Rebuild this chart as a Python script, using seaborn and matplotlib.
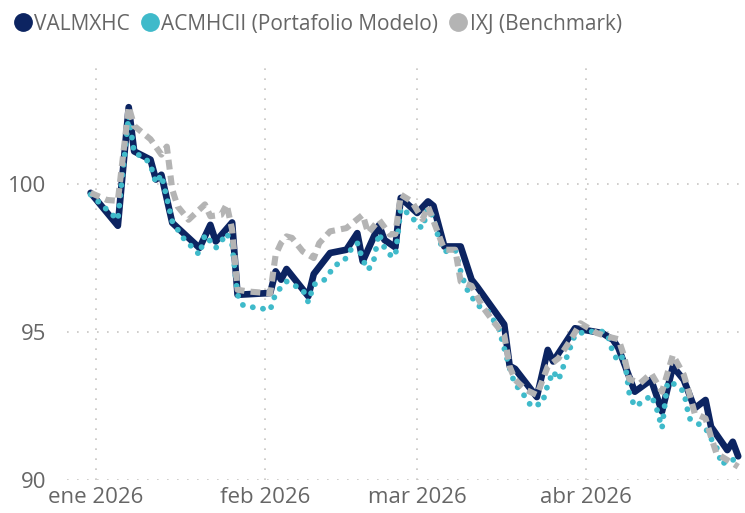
import pandas as pd
import matplotlib.pyplot as plt
import seaborn as sns
from matplotlib.lines import Line2D

sns.set_theme(style="white")
plt.rcParams["font.family"] = ["Open Sans", "DejaVu Sans"]

# VALMXHC
fechas_valmx = [
    "2025-12-31", "2026-01-05", "2026-01-07", "2026-01-08", "2026-01-11", "2026-01-12",
    "2026-01-13", "2026-01-15", "2026-01-20", "2026-01-22", "2026-01-23", "2026-01-26",
    "2026-01-27", "2026-02-02", "2026-02-03", "2026-02-04", "2026-02-05", "2026-02-09",
    "2026-02-10", "2026-02-13", "2026-02-16", "2026-02-18", "2026-02-19", "2026-02-22",
    "2026-02-23", "2026-02-25", "2026-02-26", "2026-03-01", "2026-03-03", "2026-03-04",
    "2026-03-06", "2026-03-09", "2026-03-11", "2026-03-12", "2026-03-17", "2026-03-18",
    "2026-03-19", "2026-03-23", "2026-03-25", "2026-03-26", "2026-03-30", "2026-04-04",
    "2026-04-06", "2026-04-07", "2026-04-10", "2026-04-13", "2026-04-15", "2026-04-17",
    "2026-04-19", "2026-04-21", "2026-04-23", "2026-04-24", "2026-04-27", "2026-04-28",
    "2026-04-29",
]
valmx = [
    99.69, 98.58, 102.58, 101.09, 100.81, 100.14, 100.3, 98.68, 97.83, 98.61,
    98.05, 98.69, 96.25, 96.31, 97.04, 96.76, 97.12, 96.2, 96.95, 97.66,
    97.77, 98.33, 97.38, 98.6, 98.1, 97.85, 99.52, 99.01, 99.40, 99.25,
    97.88, 97.88, 96.76, 96.53, 95.25, 93.85, 93.75, 92.8, 94.39, 94.0,
    95.12, 94.96, 94.73, 94.45, 92.98, 93.38, 92.31, 93.83, 93.38, 92.42,
    92.7, 91.8, 91.01, 91.29, 90.8,
]

# ACMHCII (Portafolio Modelo)
fechas_acm = [
    "2025-12-31", "2026-01-05", "2026-01-07", "2026-01-08", "2026-01-10", "2026-01-11",
    "2026-01-12", "2026-01-13", "2026-01-15", "2026-01-17", "2026-01-20", "2026-01-21",
    "2026-01-23", "2026-01-24", "2026-01-25", "2026-01-26", "2026-01-27", "2026-01-28",
    "2026-01-29", "2026-01-31", "2026-02-02", "2026-02-03", "2026-02-05", "2026-02-08",
    "2026-02-09", "2026-02-10", "2026-02-12", "2026-02-14", "2026-02-15", "2026-02-16",
    "2026-02-17", "2026-02-18", "2026-02-19", "2026-02-20", "2026-02-21", "2026-02-22",
    "2026-02-23", "2026-02-24", "2026-02-25", "2026-02-26", "2026-02-28", "2026-03-01",
    "2026-03-02", "2026-03-03", "2026-03-04", "2026-03-05", "2026-03-06", "2026-03-08",
    "2026-03-09", "2026-03-10", "2026-03-12", "2026-03-14", "2026-03-16", "2026-03-17",
    "2026-03-18", "2026-03-19", "2026-03-20", "2026-03-21", "2026-03-22", "2026-03-24",
    "2026-03-25", "2026-03-26", "2026-03-27", "2026-03-28", "2026-03-29", "2026-03-30",
    "2026-04-01", "2026-04-04", "2026-04-05", "2026-04-06", "2026-04-07", "2026-04-08",
    "2026-04-09", "2026-04-10", "2026-04-12", "2026-04-13", "2026-04-14", "2026-04-15",
    "2026-04-16", "2026-04-17", "2026-04-18", "2026-04-19", "2026-04-20", "2026-04-21",
    "2026-04-23", "2026-04-24", "2026-04-25", "2026-04-26", "2026-04-27", "2026-04-29",
]
acm = [
    99.63, 98.78, 102.3, 101.04, 100.87, 100.64, 100.02, 100.3, 98.73, 98.17,
    97.6, 98.28, 97.83, 98.05, 98.33, 97.94, 96.25, 95.9, 95.85, 95.8,
    95.74, 96.3, 96.7, 96.42, 96.0, 96.59, 96.76, 97.26, 97.32, 97.5,
    97.83, 98.0, 97.43, 97.09, 97.38, 98.33, 97.83, 97.6, 97.54, 99.18,
    98.9, 98.61, 98.5, 99.18, 98.84, 98.11, 97.71, 97.77, 97.04, 96.48,
    95.91, 95.69, 95.12, 94.45, 93.77, 93.21, 93.04, 92.76, 92.48, 92.59,
    93.21, 93.66, 93.38, 93.9, 94.4, 94.9, 95.01, 95.01, 94.9, 94.28,
    94.0, 94.22, 92.9, 92.48, 92.7, 92.87, 92.42, 91.75, 93.3, 93.27,
    93.1, 93.0, 92.08, 91.97, 91.75, 91.4, 91.12, 90.51, 90.68, 90.68,
]

# IXJ (Benchmark)
fechas_ixj = [
    "2025-12-31", "2026-01-03", "2026-01-05", "2026-01-07", "2026-01-08", "2026-01-11",
    "2026-01-13", "2026-01-14", "2026-01-15", "2026-01-16", "2026-01-18", "2026-01-21",
    "2026-01-22", "2026-01-24", "2026-01-25", "2026-01-26", "2026-01-27", "2026-01-29",
    "2026-02-02", "2026-02-03", "2026-02-04", "2026-02-05", "2026-02-06", "2026-02-08",
    "2026-02-10", "2026-02-11", "2026-02-13", "2026-02-16", "2026-02-19", "2026-02-20",
    "2026-02-22", "2026-02-24", "2026-02-25", "2026-02-26", "2026-02-28", "2026-03-02",
    "2026-03-03", "2026-03-06", "2026-03-08", "2026-03-09", "2026-03-11", "2026-03-13",
    "2026-03-15", "2026-03-17", "2026-03-18", "2026-03-19", "2026-03-21", "2026-03-23",
    "2026-03-25", "2026-03-27", "2026-03-29", "2026-03-31", "2026-04-03", "2026-04-05",
    "2026-04-07", "2026-04-08", "2026-04-09", "2026-04-11", "2026-04-13", "2026-04-15",
    "2026-04-17", "2026-04-19", "2026-04-20", "2026-04-21", "2026-04-23", "2026-04-24",
    "2026-04-25", "2026-04-29",
]
ixj = [
    99.69, 99.45, 99.42, 102.6, 101.95, 101.5, 100.98, 101.25, 99.8, 99.23,
    98.78, 99.3, 98.9, 98.95, 99.3, 98.45, 96.42, 96.36, 96.3, 97.6,
    98.0, 98.22, 98.17, 97.71, 97.49, 97.99, 98.39, 98.5, 98.95, 98.33,
    98.78, 98.28, 98.3, 99.63, 99.4, 98.8, 99.23, 97.77, 97.77, 96.7,
    96.55, 95.85, 95.35, 94.9, 93.83, 93.38, 93.04, 92.87, 93.83, 94.11,
    94.67, 95.29, 94.96, 94.84, 94.75, 94.2, 93.4, 93.27, 93.6, 92.98,
    94.22, 93.55, 92.93, 92.25, 92.08, 91.46, 90.9, 90.45,
]

series = ["VALMXHC", "ACMHCII (Portafolio Modelo)", "IXJ (Benchmark)"]
colores = ["#0C2461", "#3FBACA", "#B4B4B4"]

meses = ["2026-01-01", "2026-02-01", "2026-03-01", "2026-04-01"]
etiquetas_mes = ["ene 2026", "feb 2026", "mar 2026", "abr 2026"]
yticks = [90, 95, 100]

df_valmx = pd.DataFrame({"fecha": pd.to_datetime(fechas_valmx), "valor": valmx})
df_acm = pd.DataFrame({"fecha": pd.to_datetime(fechas_acm), "valor": acm})
df_ixj = pd.DataFrame({"fecha": pd.to_datetime(fechas_ixj), "valor": ixj})

fig = plt.figure(figsize=(7.45, 5.13), dpi=100)
ax = fig.add_axes([0.09, 0.0643, 0.91, 0.803])

sns.lineplot(data=df_valmx, x="fecha", y="valor", ax=ax, color=colores[0],
             lw=4.8, solid_joinstyle="round", solid_capstyle="round", zorder=3)
sns.lineplot(data=df_acm, x="fecha", y="valor", ax=ax, color=colores[1],
             lw=4.2, zorder=4)
ax.lines[-1].set_linestyle((0, (0.01, 1.75)))
ax.lines[-1].set_dash_capstyle("round")
sns.lineplot(data=df_ixj, x="fecha", y="valor", ax=ax, color=colores[2],
             lw=4.4, zorder=5)
ax.lines[-1].set_linestyle((0, (1.6, 1.0)))
ax.lines[-1].set_dash_capstyle("butt")

ax.set_xlim(pd.Timestamp("2025-12-26 16:00"), pd.Timestamp("2026-04-30 06:00"))
ax.set_ylim(90, 103.9)

ax.set_xticks(pd.to_datetime(meses))
ax.set_xticklabels(etiquetas_mes)
ax.set_yticks(yticks)
ax.set_yticklabels([str(v) for v in yticks])

ax.grid(True, linestyle=(0, (1, 5)), color="#C8C6C4", lw=1.2)
ax.set_axisbelow(True)
for s in ax.spines.values():
    s.set_visible(False)
ax.tick_params(axis="both", length=0, labelsize=16, labelcolor="#666666")
ax.tick_params(axis="y", pad=15)
ax.tick_params(axis="x", pad=5)
ax.set_xlabel("")
ax.set_ylabel("")

handles = [
    Line2D([], [], marker="o", linestyle="none", markersize=12.5,
           markerfacecolor=c, markeredgecolor=c)
    for c in colores
]
fig.legend(handles, series, loc="upper left", bbox_to_anchor=(0.0, 1.0),
           ncol=3, frameon=False, fontsize=15, labelcolor="#666666",
           handletextpad=0.1, columnspacing=0.5, handlelength=0.9,
           borderaxespad=0.25)

plt.savefig("out.png", dpi=100)
plt.close()
